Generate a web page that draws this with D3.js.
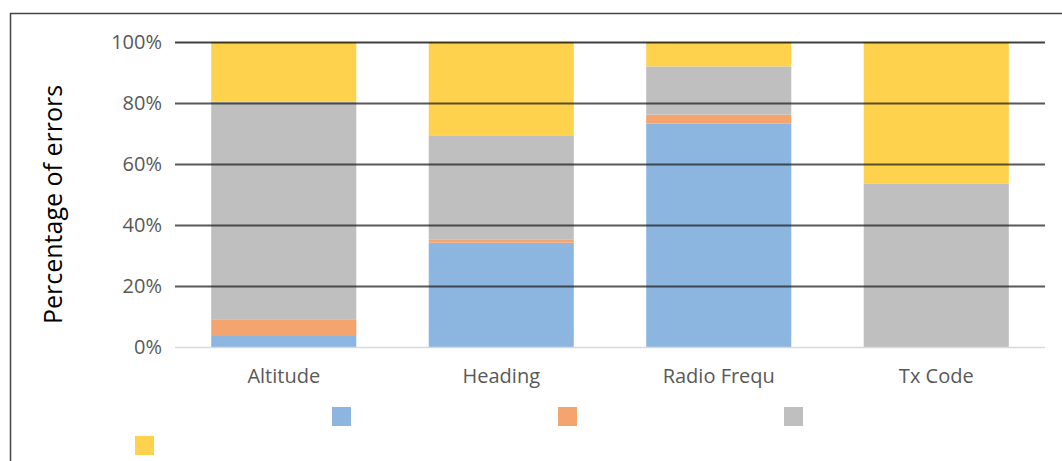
<!DOCTYPE html>
<html>
<head>
<meta charset="utf-8">
<script src="https://cdn.jsdelivr.net/npm/d3@7"></script>
<style>
  body { margin: 0; background: #fff; }
  text { font-family: "Open Sans", sans-serif; fill: #595959; }
</style>
</head>
<body>
<div id="chart"></div>
<script>
// categories and stacked shares (percent of errors)
var categories = ["Altitude", "Heading", "Radio Frequ", "Tx Code"];
var seriesKeys = ["s1", "s2", "s3", "s4"];
var seriesNames = ["", "", "", ""];
var s1 = [3.6, 34.2, 73.3, 0];
var s2 = [5.5, 1.1, 2.9, 0];
var s3 = [71.3, 33.9, 15.8, 53.5];
var s4 = [19.6, 30.8, 8.0, 46.5];
var yTicks = [0, 0.2, 0.4, 0.6, 0.8, 1];

var w = 1062, h = 461;
var plotLeft = 175, plotRight = 1045, plotTop = 42, plotBottom = 347;
var color = ["#8cb6e0", "#f4a46f", "#bfbfbf", "#ffd24d"];

var rows = categories.map(function(c, i) {
  var tot = s1[i] + s2[i] + s3[i] + s4[i];
  return {cat: c, s1: s1[i] / tot, s2: s2[i] / tot, s3: s3[i] / tot, s4: s4[i] / tot};
});
var stacked = d3.stack().keys(seriesKeys)(rows);

var svg = d3.select("#chart").append("svg")
  .attr("width", w).attr("height", h);

// outer frame (left + top edges visible)
svg.append("path")
  .attr("d", "M10.5," + h + "V13.5H" + w)
  .attr("fill", "none").attr("stroke", "#444").attr("stroke-width", 1.5);

var xScale = d3.scaleBand().domain(categories).range([plotLeft, plotRight]).paddingInner(0.333).paddingOuter(0.1665);
var yScale = d3.scaleLinear().domain([0, 1]).range([plotBottom, plotTop]);

// bars
svg.append("g").selectAll("g")
  .data(stacked).enter().append("g")
  .attr("fill", function(d, i) { return color[i]; })
  .selectAll("rect")
  .data(function(d) { return d; }).enter().append("rect")
  .attr("x", function(d) { return xScale(d.data.cat); })
  .attr("y", function(d) { return yScale(d[1]); })
  .attr("width", xScale.bandwidth())
  .attr("height", function(d) { return yScale(d[0]) - yScale(d[1]); });

// gridlines on top, semi transparent so they show through bars
var yAxis = d3.axisLeft(yScale).tickValues(yTicks)
  .tickSize(-(plotRight - plotLeft)).tickPadding(13)
  .tickFormat(d3.format(".0%"));
var gy = svg.append("g").attr("transform", "translate(" + plotLeft + ",0)").call(yAxis);
gy.select(".domain").remove();
gy.selectAll(".tick line")
  .attr("stroke", function(d) { return d === 0 ? "#d9d9d9" : (d === 1 ? "#000" : "#222"); })
  .attr("stroke-opacity", function(d) { return d === 0 ? 1 : 0.75; })
  .attr("stroke-width", function(d) { return d === 0 ? 1.5 : 2; });
gy.selectAll(".tick text").style("font-size", "20px").attr("fill", "#595959");

// category axis
var xAxis = d3.axisBottom(xScale).tickSize(0).tickPadding(22);
var gx = svg.append("g").attr("transform", "translate(0," + plotBottom + ")").call(xAxis);
gx.select(".domain").remove();
gx.selectAll(".tick text").style("font-size", "20px").attr("fill", "#595959");

// y title
svg.append("text")
  .attr("transform", "translate(62," + ((plotTop + plotBottom) / 2 + 10) + ") rotate(-90)")
  .attr("text-anchor", "middle")
  .style("font-size", "25px").style("fill", "#000")
  .text("Percentage of errors");

// legend (swatches only, names are blank)
var legendPos = [[332, 407], [558, 407], [784, 407], [135, 436]];
var lg = svg.append("g").selectAll("g").data(seriesKeys).enter().append("g")
  .attr("transform", function(d, i) { return "translate(" + legendPos[i][0] + "," + legendPos[i][1] + ")"; });
lg.append("rect").attr("width", 19).attr("height", 19)
  .attr("fill", function(d, i) { return color[i]; });
lg.append("text").attr("x", 25).attr("y", 15).style("font-size", "18px")
  .text(function(d, i) { return seriesNames[i]; });
</script>
</body>
</html>
